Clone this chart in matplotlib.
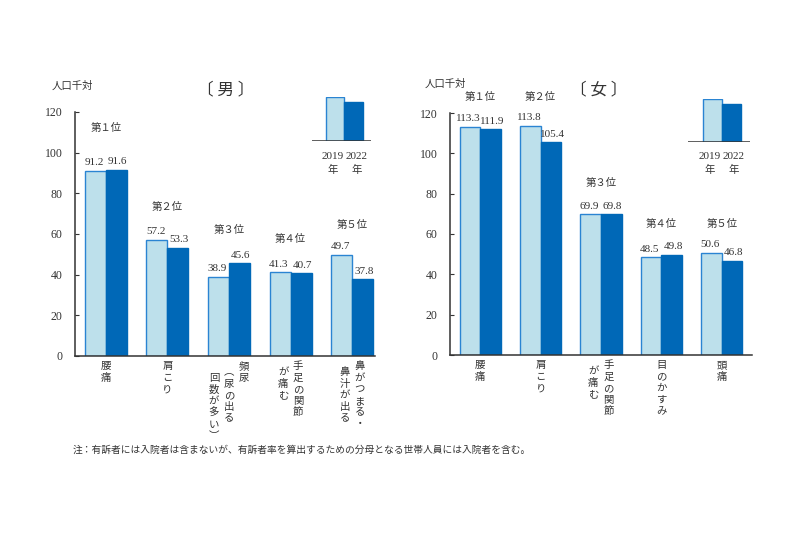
import matplotlib.pyplot as plt
import numpy as np
from matplotlib.transforms import offset_copy

JP = ['Noto Sans CJK JP', 'DejaVu Sans']
NUM = ['Liberation Serif', 'Noto Sans CJK JP']
plt.rcParams['font.family'] = JP

years = ['2019', '2022']
ranks = ['第１位', '第２位', '第３位', '第４位', '第５位']

male_items = ['腰痛', '肩こり', '頻尿\n（尿の出る\n回数が多い）', '手足の関節\nが痛む', '鼻がつまる・\n鼻汁が出る']
male_2019 = [91.2, 57.2, 38.9, 41.3, 49.7]
male_2022 = [91.6, 53.3, 45.6, 40.7, 37.8]

female_items = ['腰痛', '肩こり', '手足の関節\nが痛む', '目のかすみ', '頭痛']
female_2019 = [113.3, 113.8, 69.9, 48.5, 50.6]
female_2022 = [111.9, 105.4, 69.8, 49.8, 46.8]

# legend sample heights (relative)
legend_sample = [1.0, 0.88]

LIGHT = '#bde0eb'
EDGE = '#2a84d2'
DARK = '#0068b7'
AXC = '#333333'
TXT = '#333333'

W, H = 800, 534
fig = plt.figure(figsize=(W / 100, H / 100), dpi=100)


def px(x, y):
    return x / W, 1 - y / H


def vertical(label):
    cols = label.split('\n')
    table = str.maketrans({'（': '︵', '）': '︶'})
    return ['\n'.join(c.translate(table)) for c in cols]


def panel(rect, items, v19, v22, xmax, rank_pad, title, title_xy, unit_xy, inset_rect, inset_lbl_x):
    ax = fig.add_axes(rect)
    x = np.arange(len(items))
    w = 0.34
    ax.bar(x - w / 2, v19, w, color=LIGHT, edgecolor=EDGE, linewidth=1.0)
    ax.bar(x + w / 2, v22, w, color=DARK, edgecolor=DARK, linewidth=1.0)
    ax.set_xlim(-0.5, xmax)
    ax.set_ylim(0, 120)
    ax.set_yticks(range(0, 121, 20))
    ax.set_xticks([])
    for s in ['top', 'right']:
        ax.spines[s].set_visible(False)
    for s in ['left', 'bottom']:
        ax.spines[s].set_color(AXC)
        ax.spines[s].set_linewidth(1.1)
    ax.tick_params(axis='y', direction='in', length=3, pad=9, labelsize=8.5,
                   colors=AXC, labelcolor=TXT)
    for lbl in ax.get_yticklabels():
        lbl.set_fontfamily(NUM)

    for i in range(len(items)):
        ax.annotate(f'{v19[i]:.1f}', (x[i] - w / 2, v19[i]), xytext=(-1, 2.5),
                    textcoords='offset points', ha='center', va='bottom',
                    fontsize=8, family=NUM, color=TXT, annotation_clip=False)
        ax.annotate(f'{v22[i]:.1f}', (x[i] + w / 2, v22[i]), xytext=(1, 2.5),
                    textcoords='offset points', ha='center', va='bottom',
                    fontsize=8, family=NUM, color=TXT, annotation_clip=False)
        top = max(v19[i], v22[i]) + rank_pad[i]
        ax.text(x[i], top, ranks[i], ha='center', va='center', fontsize=7.5,
                color=TXT, clip_on=False)

        cols = vertical(items[i])
        n = len(cols)
        for j, col in enumerate(cols):
            dx = ((n - 1) / 2 - j) * 15
            dy = -5 - j * 6
            tr = offset_copy(ax.get_xaxis_transform(), fig=fig, x=dx, y=dy, units='dots')
            ax.text(x[i], 0, col, transform=tr, ha='center', va='top',
                    fontsize=7.5, linespacing=1.2, color=TXT, clip_on=False)

    fig.text(*px(*title_xy), title, ha='center', va='center', fontsize=12, color=TXT)
    fig.text(*px(*unit_xy), '人口千対', ha='left', va='center', fontsize=7.5, color=TXT)

    # legend inset
    lax = fig.add_axes(inset_rect)
    lax.bar([0, 1], legend_sample, 1.0, color=[LIGHT, DARK], edgecolor=[EDGE, DARK], linewidth=1.0)
    lax.set_xlim(-1.25, 1.95)
    lax.set_ylim(0, 1)
    lax.axis('off')
    lax.axhline(0, color=AXC, linewidth=1.1)
    lx0, lx1, ly = inset_lbl_x
    for xx, yr in zip([lx0, lx1], years):
        fig.text(*px(xx, ly), yr, ha='center', va='center', fontsize=8, family=NUM, color=TXT)
        fig.text(*px(xx, ly + 13), '年', ha='center', va='center', fontsize=7.5, color=TXT)
    return ax


panel([75 / W, 1 - 356 / H, 300 / W, 244 / H], male_items, male_2019, male_2022,
      4.37, [20.5, 16, 16.5, 16.5, 14.5], '〔 男 〕', (226, 90), (52, 86),
      [312 / W, 1 - 141 / H, 59 / W, 44 / H], (333, 357, 157))

panel([450 / W, 1 - 355 / H, 302 / W, 242 / H], female_items, female_2019, female_2022,
      4.5, [14.5, 14, 15.5, 15, 14.5], '〔 女 〕', (599, 90), (425, 84),
      [688 / W, 1 - 142 / H, 62 / W, 43 / H], (710, 734, 157))

fig.text(*px(73, 450), '注：有訴者には入院者は含まないが、有訴者率を算出するための分母となる世帯人員には入院者を含む。',
         ha='left', va='center', fontsize=7, color=TXT)

fig.savefig('out.png', dpi=100)
